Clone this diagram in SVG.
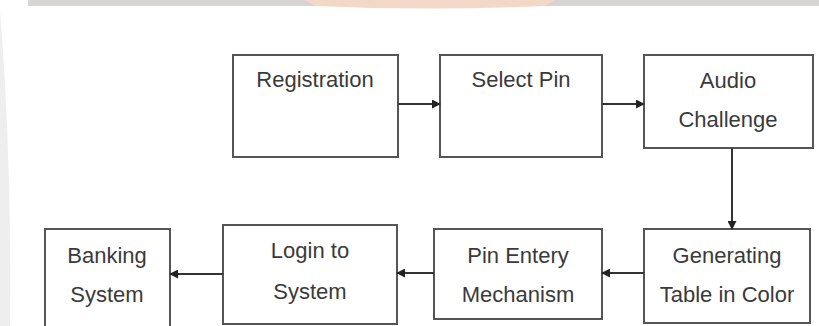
<svg xmlns="http://www.w3.org/2000/svg" width="819" height="326" viewBox="0 0 819 326">
  <defs>
    <marker id="arr" viewBox="0 0 10 10" refX="9" refY="5" markerWidth="9" markerHeight="9" markerUnits="userSpaceOnUse" orient="auto">
      <path d="M0,0 L10,5 L0,10 Z" fill="#222"/>
    </marker>
  </defs>
  <style>
    .box { fill: #ffffff; stroke: #555555; stroke-width: 2; }
    .lbl { font-family: "Liberation Sans", Arial, sans-serif; font-size: 22px; fill: #3a3a3a; text-anchor: middle; }
    .conn { stroke: #333333; stroke-width: 2; fill: none; marker-end: url(#arr); }
  </style>
  <rect x="0" y="0" width="819" height="326" fill="#ffffff"/>
  <!-- watermark fragments -->
  <g id="watermark">
    <rect x="28" y="0" width="791" height="6" fill="#d8d4d4"/>
    <path d="M305,0 L555,0 L545,6 Q430,11 315,6 Z" fill="#f3d8c8"/>
    <path d="M0,10 Q12,160 10,326 L0,326 Z" fill="#eeeeee"/>
  </g>

  <g id="registration">
    <rect class="box" x="233" y="55" width="165" height="102"/>
    <text class="lbl" x="315" y="87">Registration</text>
  </g>
  <g id="select-pin">
    <rect class="box" x="440" y="55" width="162" height="102"/>
    <text class="lbl" x="521" y="87">Select Pin</text>
  </g>
  <g id="audio-challenge">
    <rect class="box" x="644" y="55" width="169" height="93"/>
    <text class="lbl" x="728" y="88">Audio</text>
    <text class="lbl" x="728" y="127">Challenge</text>
  </g>
  <g id="generating-table">
    <rect class="box" x="644" y="229" width="166" height="94"/>
    <text class="lbl" x="727" y="263">Generating</text>
    <text class="lbl" x="727" y="302">Table in Color</text>
  </g>
  <g id="pin-entry">
    <rect class="box" x="434" y="229" width="168" height="90"/>
    <text class="lbl" x="518" y="263">Pin Entery</text>
    <text class="lbl" x="518" y="302">Mechanism</text>
  </g>
  <g id="login">
    <rect class="box" x="223" y="225" width="174" height="99"/>
    <text class="lbl" x="310" y="258">Login to</text>
    <text class="lbl" x="310" y="299">System</text>
  </g>
  <g id="banking">
    <rect class="box" x="45" y="229" width="125" height="100"/>
    <text class="lbl" x="107" y="263">Banking</text>
    <text class="lbl" x="107" y="302">System</text>
  </g>

  <g id="connectors">
    <line class="conn" x1="398" y1="104" x2="440" y2="104"/>
    <line class="conn" x1="602" y1="104" x2="644" y2="104"/>
    <line class="conn" x1="732" y1="148" x2="732" y2="229"/>
    <line class="conn" x1="644" y1="273" x2="602" y2="273"/>
    <line class="conn" x1="434" y1="273" x2="397" y2="273"/>
    <line class="conn" x1="223" y1="274" x2="170" y2="274"/>
  </g>
</svg>
